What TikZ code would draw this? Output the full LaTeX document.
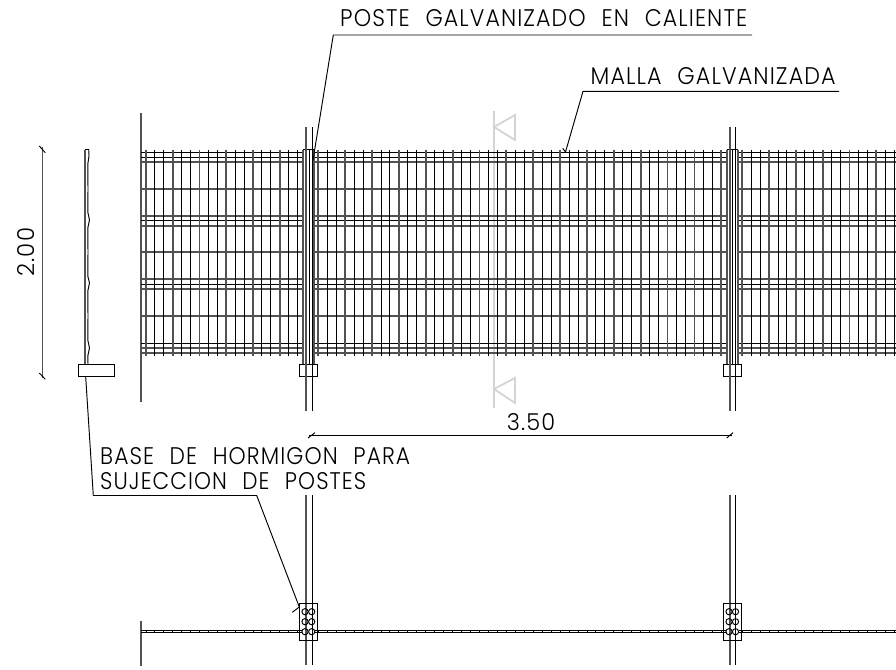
\documentclass[tikz,border=0pt]{standalone}
\usepackage{fontspec}
\setmainfont{Poppins}[UprightFont=* Light,LetterSpace=5,WordSpace=2.2]
\newcommand{\cadtext}[3]{\resizebox{#1pt}{#2pt}{#3}}
\newcommand{\wires}[3]{%
  \foreach \n in {0,...,#3}{%
    \pgfmathtruncatemacro{\m}{mod(\n,3)}%
    \ifnum\m=0 \def\wstyle{wiregray}\else\def\wstyle{wireblack}\fi
    \draw[\wstyle] ({#1+#2*\n},149.5) -- ({#1+#2*\n},355.7);
    \draw[wireblack] ({#1+#2*\n},630) -- ({#1+#2*\n},633.4);
  }%
}
\newcommand{\rails}[2]{%
  \foreach \ry in {#1}{%
    \draw[#2] (141,\ry) -- (302.7,\ry);
    \draw[#2] (314.3,\ry) -- (726.7,\ry);
    \draw[#2] (737.7,\ry) -- (896,\ry);
  }%
}
\tikzset{
  ink/.style={draw=black,line width=0.95pt},
  inkgray/.style={draw=black!68,line width=1.8pt},
  wireblack/.style={draw=black,line width=0.95pt},
  wiregray/.style={draw=black!68,line width=1.8pt},
  ghost/.style={draw=black!17,line width=1.8pt},
  label/.style={inner sep=0pt,anchor=base west,text=black}
}
\begin{document}
\begin{tikzpicture}[x=1pt,y=-1pt]
\useasboundingbox (0,0) rectangle (896,669);
% section mark
\draw[ghost] (494,111) -- (494,408);
\draw[ghost] (494,127) -- (515,115) -- (515,140) -- cycle;
\draw[ghost] (494,389) -- (515,378) -- (515,403) -- cycle;
% frame edges
\draw[inkgray] (141,113) -- (141,402);
\draw[inkgray] (141,621) -- (141,666);
% rails
\rails{152.3,157.3,220.7,284,343.3}{wireblack}
\rails{161.7,189,216,225.7,252.3,279.3,289,316,348.3,353.3}{wiregray}
% wires
\wires{146}{8.92}{17}
\wires{318.3}{8.956}{45}
\wires{742.3}{8.93}{17}
% posts in elevation
\foreach \px/\qx in {303/306,726.7/729.7}{
  \draw[fill=white,draw=none] (\px,149.5) rectangle ({\px+11.3},364.3);
  \draw[ink] (\px,149.5) -- ({\px+11.3},149.5);
  \draw[inkgray] (\px,149.5) -- (\px,364.3);
  \draw[inkgray] ({\px+11.3},149.5) -- ({\px+11.3},364.3);
  \draw[inkgray] (\qx,149.5) -- (\qx,364.3);
  \draw[ink] ({\qx+3},149.5) -- ({\qx+3},364.3);
  \draw[ink] ({\qx+6},149.5) -- ({\qx+6},364.3);
  \draw[inkgray] (\qx,127) -- (\qx,149.5);
  \draw[ink] ({\qx+6},127) -- ({\qx+6},149.5);
  \draw[inkgray] (\qx,376.7) -- (\qx,411);
  \draw[ink] ({\qx+6},376.7) -- ({\qx+6},411);
  \draw[inkgray] (\qx,495) -- (\qx,665);
  \draw[ink] ({\qx+6},495) -- ({\qx+6},665);
}
\node[ink,fill=white,inner sep=0pt,minimum width=18pt,minimum height=12.4pt] (footA) at (308.3,370.5) {};
\node[ink,fill=white,inner sep=0pt,minimum width=18pt,minimum height=12.4pt] (footB) at (732.3,370.5) {};
\draw[inkgray] (306,364.3) -- (306,376.7) (729.7,364.3) -- (729.7,376.7);
\draw[ink] (312,364.3) -- (312,376.7) (735.7,364.3) -- (735.7,376.7);
% side profile
\draw[inkgray] (85,149.5) -- (85,364.3);
\draw[ink] (85,149.5) -- (88.7,149.5) -- (89,156) -- (87.8,164) -- (88,189)
  -- (87.8,212) -- (89.5,220) -- (87.8,228) -- (88,252)
  -- (87.8,276) -- (89.5,283) -- (87.8,291) -- (88,316)
  -- (87.8,340) -- (89.5,348) -- (87.8,356) -- (88,364.3);
\node[ink,inner sep=0pt,minimum width=36.4pt,minimum height=12.4pt] (sideBase) at (96.5,370.5) {};
% plan rails and plates
\foreach \ry in {630.7,632.7}{
  \draw[wireblack] (141,\ry) -- (302,\ry);
  \draw[wireblack] (315,\ry) -- (726,\ry);
  \draw[wireblack] (739,\ry) -- (896,\ry);
}
\node[ink,inner sep=0pt,minimum width=18pt,minimum height=36.7pt] (plateA) at (308.3,621.7) {};
\node[ink,inner sep=0pt,minimum width=18pt,minimum height=36.7pt] (plateB) at (732.3,621.7) {};
\foreach \cx in {305,311.7,729,735.5}{
  \foreach \cy in {611.7,621.7,631.7}{
    \draw[ink] (\cx,\cy) circle (3.1pt);
  }
}
% dimension 2.00
\coordinate (dimTop) at (42.3,146.7);
\coordinate (dimBot) at (42.3,378);
\draw[inkgray,line width=1.4pt] (dimTop) -- (dimBot);
\draw[ink] (39.3,146) -- (45.3,152.7);
\draw[ink] (39.3,373) -- (45.3,379.3);
\node[label,rotate=90] (dimV) at (34,276.7) {\cadtext{48.7}{17}{2.00}};
% dimension 3.50
\coordinate (dimL) at (309,435);
\coordinate (dimR) at (732,435);
\draw[ink] (dimL) -- (dimR);
\draw[ink] (308,438) -- (315,432.7);
\draw[ink] (726.7,438) -- (733,432.7);
\node[label] (dimH) at (506.7,430) {\cadtext{48.3}{17}{3.50}};
% leaders
\node[label] (textPoste) at (340,27) {\cadtext{407}{17}{POSTE GALVANIZADO EN CALIENTE}};
\coordinate (p1) at (752,35);
\coordinate (p2) at (333.3,35);
\coordinate (p3) at (313,160);
\draw[ink] (p1) -- (p2) -- (p3);
\node[label] (textMalla) at (590.5,84) {\cadtext{245}{17}{MALLA GALVANIZADA}};
\coordinate (m1) at (839,91.3);
\coordinate (m2) at (583,91.3);
\coordinate (m3) at (565.5,152);
\draw[ink] (m1) -- (m2) -- (m3) -- (562.7,148.3);
\node[label] (textBase) at (100,464) {\cadtext{310}{17}{BASE DE HORMIGON PARA}};
\node[label] (textSuj) at (100,489) {\cadtext{266}{17}{SUJECCION DE POSTES}};
\coordinate (b1) at (85.7,377);
\coordinate (b2) at (93.3,495.5);
\coordinate (b3) at (256.7,495.5);
\coordinate (b4) at (299.3,607);
\draw[ink] (b1) -- (b2) -- (b3) -- (b4) -- (292.3,612.3);
\end{tikzpicture}
\end{document}
